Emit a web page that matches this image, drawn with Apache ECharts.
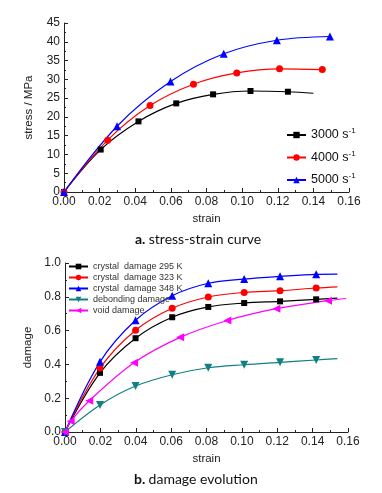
<!DOCTYPE html>
<html>
<head>
<meta charset="utf-8">
<script src="https://cdn.jsdelivr.net/npm/echarts@6/dist/echarts.min.js"></script>
<style>
html,body{margin:0;padding:0;background:#fff;}
#c{width:382px;height:493px;}
</style>
</head>
<body>
<div id="c"></div>
<script>
// ---- Chart a: stress-strain ----
const strain3000 = [0, 0.0206, 0.0418, 0.063, 0.0837, 0.1047, 0.1257, 0.140];
const stress3000 = [0, 11.3, 18.8, 23.6, 26.0, 26.9, 26.7, 26.3];
const strain4000 = [0, 0.0245, 0.0483, 0.0727, 0.097, 0.121, 0.145];
const stress4000 = [0, 13.8, 23.0, 28.7, 31.7, 32.8, 32.6];
const strain5000 = [0, 0.0298, 0.0598, 0.0897, 0.1195, 0.1493];
const stress5000 = [0, 17.5, 29.4, 36.8, 40.4, 41.4];
const rateNames = ['3000', '4000', '5000'];

// ---- Chart b: damage evolution ----
const dStrain = [0, 0.0198, 0.0399, 0.0606, 0.081, 0.1013, 0.1216, 0.142, 0.154];
const damage295 = [0, 0.35, 0.555, 0.679, 0.740, 0.763, 0.773, 0.785, 0.792];
const damage323 = [0, 0.378, 0.602, 0.732, 0.799, 0.826, 0.836, 0.852, 0.859];
const damage348 = [0, 0.415, 0.661, 0.806, 0.880, 0.905, 0.921, 0.933, 0.934];
const damageDeb = [0, 0.16, 0.272, 0.339, 0.380, 0.398, 0.412, 0.426, 0.434];
const voidStrain = [0, 0.0032, 0.0137, 0.039, 0.0651, 0.0918, 0.1195, 0.1487, 0.159];
const damageVoid = [0, 0.063, 0.185, 0.410, 0.560, 0.660, 0.730, 0.777, 0.790];
const damageNames = ['crystal  damage 295 K', 'crystal  damage 323 K', 'crystal  damage 348 K', 'debonding damage', 'void damage'];

function pts(xs, ys, lastNoSymbol) {
  return xs.map((x, i) => {
    const item = { value: [x, ys[i]] };
    if (lastNoSymbol && i === xs.length - 1) item.symbol = 'none';
    return item;
  });
}

const FONT = 'Liberation Sans, Arial, sans-serif';
const axisCommon = {
  axisLine: { show: true, lineStyle: { color: '#222', width: 1 } },
  axisTick: { show: true, inside: true, length: 4, lineStyle: { color: '#222' } },
  minorTick: { show: true, splitNumber: 2, length: 2, lineStyle: { color: '#222' } },
  splitLine: { show: false },
  axisLabel: { color: '#222', fontSize: 12, fontFamily: FONT, margin: 4 },
  nameTextStyle: { color: '#222', fontSize: 11.5, fontFamily: FONT }
};

function series(name, xi, yi, xs, ys, color, symbol, size, lastNo) {
  return {
    name: name, type: 'line', xAxisIndex: xi, yAxisIndex: yi,
    data: pts(xs, ys, lastNo), smooth: 0.35,
    symbol: symbol, symbolSize: size, showAllSymbol: true,
    lineStyle: { color: color, width: 1.2 },
    itemStyle: { color: color },
    emphasis: { disabled: true }, animation: false
  };
}

const captionRich = {
  b: { fontWeight: 'bold', fontSize: 14, fontFamily: 'Lato, Open Sans, sans-serif', fill: '#111' },
  n: { fontSize: 14, fontFamily: 'Lato, Open Sans, sans-serif', fill: '#111' }
};

const chart = echarts.init(document.getElementById('c'), null, { renderer: 'canvas' });
chart.setOption({
  animation: false,
  backgroundColor: '#fff',
  grid: [
    { left: 64, top: 23, width: 285, height: 169 },
    { left: 65, top: 263, width: 283, height: 169 }
  ],
  xAxis: [
    Object.assign({}, axisCommon, {
      gridIndex: 0, type: 'value', min: 0, max: 0.16, interval: 0.02,
      name: 'strain', nameLocation: 'middle', nameGap: 21,
      axisLabel: Object.assign({}, axisCommon.axisLabel, { formatter: v => v.toFixed(2) })
    }),
    Object.assign({}, axisCommon, {
      gridIndex: 1, type: 'value', min: 0, max: 0.16, interval: 0.02,
      name: 'strain', nameLocation: 'middle', nameGap: 21,
      axisLabel: Object.assign({}, axisCommon.axisLabel, { formatter: v => v.toFixed(2) })
    })
  ],
  yAxis: [
    Object.assign({}, axisCommon, {
      gridIndex: 0, type: 'value', min: 0, max: 45, interval: 5,
      name: 'stress / MPa', nameLocation: 'middle', nameGap: 29, nameRotate: 90,
      axisLabel: Object.assign({}, axisCommon.axisLabel, { formatter: v => String(v) })
    }),
    Object.assign({}, axisCommon, {
      gridIndex: 1, type: 'value', min: 0, max: 1.0, interval: 0.2,
      name: 'damage', nameLocation: 'middle', nameGap: 30, nameRotate: 90,
      axisLabel: Object.assign({}, axisCommon.axisLabel, { formatter: v => v.toFixed(1) })
    })
  ],
  legend: [
    {
      data: rateNames.map(n => n + ' s-1'),
      orient: 'vertical', left: 286, top: 127, itemGap: 8,
      itemWidth: 19, itemHeight: 8,
      formatter: n => n.replace(' s-1', ' s{sup|-1}'),
      textStyle: { color: '#111', fontSize: 12.5, fontFamily: FONT,
        rich: { sup: { fontSize: 8, verticalAlign: 'top', padding: [0, 0, 8, 0], fontFamily: FONT, color: '#111' } } },
      selectedMode: false, padding: 0
    },
    {
      data: damageNames,
      orient: 'vertical', left: 68, top: 262, itemGap: 2,
      itemWidth: 19, itemHeight: 7,
      textStyle: { color: '#333', fontSize: 9, fontFamily: FONT },
      selectedMode: false, padding: 0
    }
  ],
  series: [
    series(rateNames[0] + ' s-1', 0, 0, strain3000, stress3000, '#000000', 'rect', 6, true),
    series(rateNames[1] + ' s-1', 0, 0, strain4000, stress4000, '#ff0000', 'circle', 7, false),
    series(rateNames[2] + ' s-1', 0, 0, strain5000, stress5000, '#0000ff', 'triangle', 8, false),
    series(damageNames[0], 1, 1, dStrain, damage295, '#000000', 'rect', 6, true),
    series(damageNames[1], 1, 1, dStrain, damage323, '#ff0000', 'circle', 7, true),
    series(damageNames[2], 1, 1, dStrain, damage348, '#0000ff', 'triangle', 8, true),
    series(damageNames[3], 1, 1, dStrain, damageDeb, '#108080', 'path://M0,0 L10,0 L5,9 Z', 8, true),
    series(damageNames[4], 1, 1, voidStrain, damageVoid, '#ff00ff', 'path://M10,0 L10,10 L0,5 Z', 8, true)
  ],
  graphic: [
    { type: 'text', left: 135, top: 232, style: { rich: captionRich, text: '{b|a.} {n|stress-strain curve}' } },
    { type: 'text', left: 134, top: 472, style: { rich: captionRich, text: '{b|b.} {n|damage evolution}' } }
  ]
});
</script>
</body>
</html>
